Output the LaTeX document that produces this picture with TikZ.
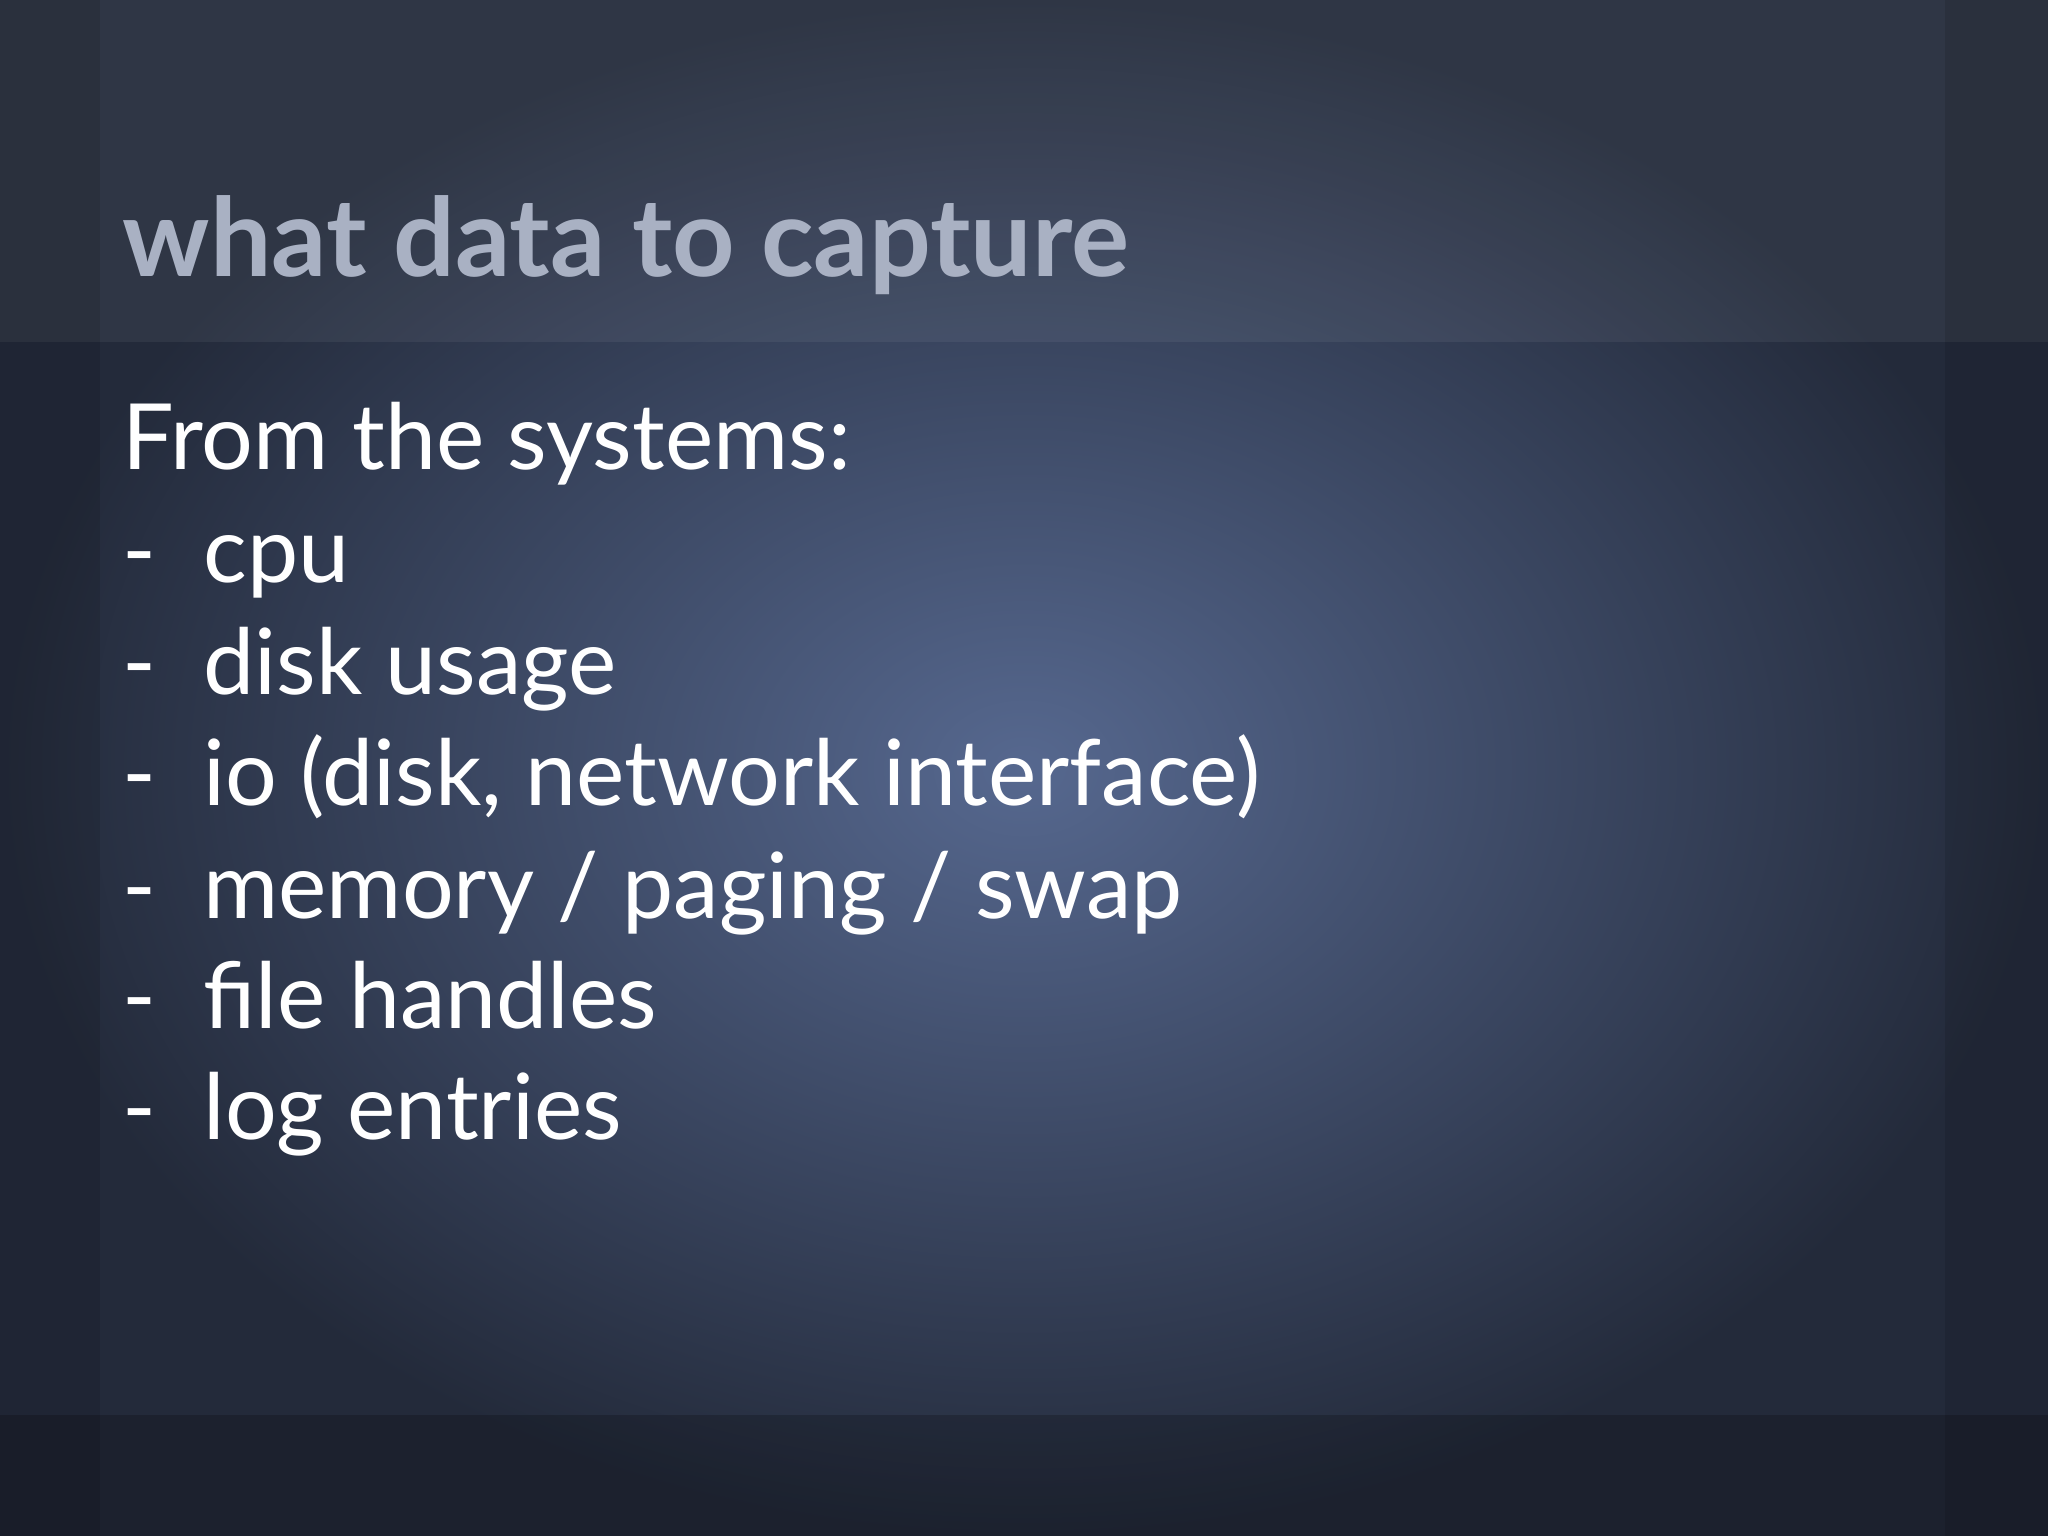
\documentclass[tikz,border=0pt]{standalone}
\usepackage{fontspec}
\setmainfont{Lato}
\definecolor{bgin}{HTML}{56688F}
\definecolor{bgout}{HTML}{232A3A}
\definecolor{titlec}{HTML}{A9B1C3}
\tikzset{body/.style={anchor=base west,inner sep=0pt,text=white,font=\fontsize{26}{26}\selectfont},
title/.style={anchor=base west,inner sep=0pt,text=titlec,font=\bfseries\fontsize{31}{31}\selectfont}}
\begin{document}
\begin{tikzpicture}
\useasboundingbox (0,0) rectangle (20.48,-15.36);
\shade[inner color=bgin,outer color=bgout] (0,0) rectangle (20.48,-15.36);
\fill[white,opacity=0.06] (0,0) rectangle (20.48,-3.42);
\fill[black,opacity=0.2] (0,-14.15) rectangle (20.48,-15.36);
\fill[black,opacity=0.1] (0,0) rectangle (1.0,-15.36);
\fill[black,opacity=0.1] (19.45,0) rectangle (20.48,-15.36);
\node[title] (t) at (1.22,-2.77) {what data to capture};
\node[body] (l0) at (1.22,-4.70) {From the systems:};
\node[body] (l1) at (1.22,-5.82) {-\ \ cpu};
\node[body] (l2) at (1.22,-6.94) {-\ \ disk usage};
\node[body] (l3) at (1.22,-8.06) {-\ \ io (disk, network interface)};
\node[body] (l4) at (1.22,-9.18) {-\ \ memory / paging / swap};
\node[body] (l5) at (1.22,-10.29) {-\ \ file handles};
\node[body] (l6) at (1.22,-11.40) {-\ \ log entries};
\end{tikzpicture}
\end{document}
